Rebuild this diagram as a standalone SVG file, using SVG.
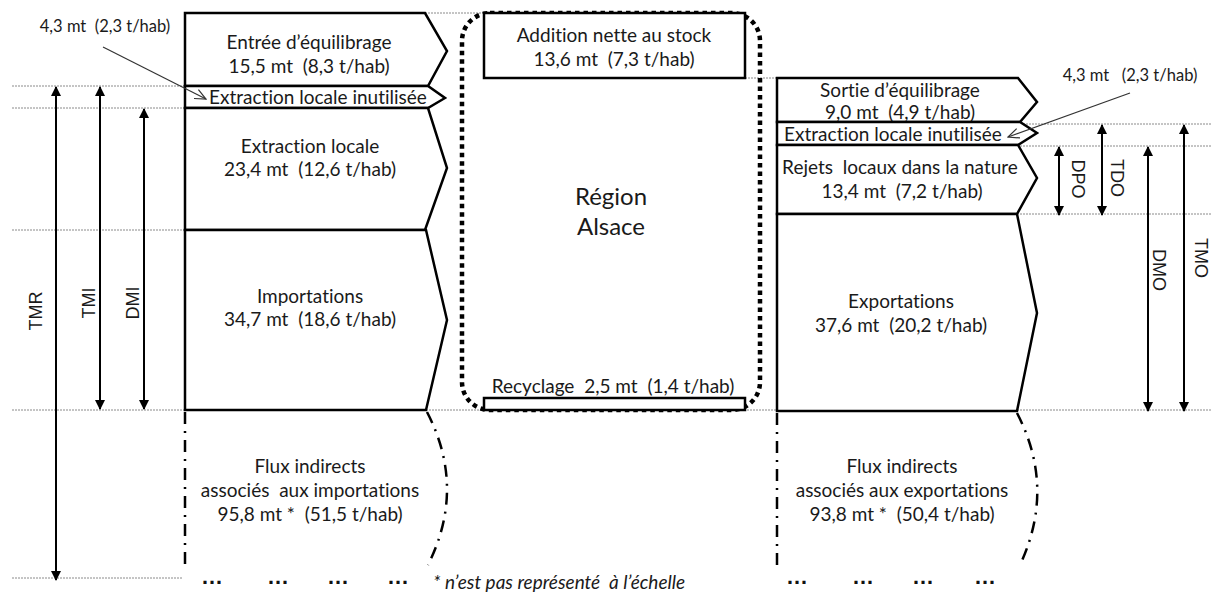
<svg xmlns="http://www.w3.org/2000/svg" width="1211" height="595" viewBox="0 0 1211 595">
<style>
.bg{fill:#fff}
.box{fill:#fff;stroke:#000;stroke-width:2.5;stroke-linejoin:miter}
.guide{stroke:#8a8a8a;stroke-width:1;stroke-dasharray:2 1;fill:none}
.dd{stroke:#000;stroke-width:2.5;stroke-dasharray:12 7 2 7;fill:none}
.dim{stroke:#000;stroke-width:2;fill:none}
.call{stroke:#333;stroke-width:1.2;fill:none}
text{white-space:pre;font-variant-ligatures:none}
.t{font-family:Lato,"Liberation Sans",sans-serif;font-size:19px;fill:#1a1a1a;text-anchor:middle}
.s{font-size:16.5px}
.big{font-size:24px}
.lab{font-family:"Liberation Sans",Arial,sans-serif;font-size:18px;fill:#1a1a1a;text-anchor:middle;dominant-baseline:central}
.dots{font-family:"Liberation Sans",sans-serif;font-size:22px;font-weight:bold;fill:#111;text-anchor:middle}
.note{font-family:Lato,"Liberation Sans",sans-serif;font-size:19px;font-style:italic;fill:#1a1a1a}
</style>
<defs>
<marker id="ah" viewBox="0 0 10 10" refX="9" refY="5" markerWidth="10" markerHeight="10" markerUnits="userSpaceOnUse" orient="auto-start-reverse">
<path d="M0,0 L10,5 L0,10 z" fill="#000"/>
</marker>
<marker id="oa" viewBox="0 0 12 12" refX="11" refY="6" markerWidth="12" markerHeight="12" markerUnits="userSpaceOnUse" orient="auto">
<path d="M0,1 L11,6 L0,11" fill="none" stroke="#333" stroke-width="1.2"/>
</marker>
</defs>
<rect class="bg" x="0" y="0" width="1211" height="595"/>

<g id="guides">
<line class="guide" x1="12" y1="86" x2="185" y2="86"/>
<line class="guide" x1="12" y1="108" x2="185" y2="108"/>
<line class="guide" x1="12" y1="230" x2="185" y2="230"/>
<line class="guide" x1="12" y1="410" x2="1211" y2="410"/>
<line class="guide" x1="12" y1="578" x2="183" y2="578"/>
<line class="guide" x1="425" y1="13" x2="484" y2="13"/>
<line class="guide" x1="745" y1="78" x2="777" y2="78"/>
<line class="guide" x1="1020" y1="124" x2="1211" y2="124"/>
<line class="guide" x1="1020" y1="146" x2="1211" y2="146"/>
<line class="guide" x1="1020" y1="214" x2="1211" y2="214"/>
</g>

<g id="region">
<rect x="462" y="13" width="298" height="397" rx="28" ry="28" fill="none" stroke="#000" stroke-width="4.5" stroke-dasharray="4.5 4"/>
<text class="t big" x="611" y="205">Région</text>
<text class="t big" x="611" y="235">Alsace</text>
</g>

<g id="stock">
<rect class="box" x="484" y="13" width="261" height="65"/>
<text class="t" x="614" y="42">Addition nette au stock</text>
<text class="t" x="614" y="66">13,6 mt  (7,3 t/hab)</text>
</g>

<g id="recyclage">
<rect class="box" x="484" y="398" width="261" height="12"/>
<text class="t" x="613" y="393">Recyclage  2,5 mt  (1,4 t/hab)</text>
</g>

<g id="entree">
<polygon class="box" points="185,13 425,13 447,51 428,86 185,86"/>
<text class="t" x="309" y="49">Entrée d’équilibrage</text>
<text class="t" x="309" y="73">15,5 mt  (8,3 t/hab)</text>
</g>

<g id="extr-inut-in">
<polygon class="box" points="185,86 428,86 445,98 428,108 185,108"/>
<text class="t" x="318" y="104">Extraction locale inutilisée</text>
</g>

<g id="extraction">
<polygon class="box" points="185,108 428,108 447,168 425,230 185,230"/>
<text class="t" x="310" y="153">Extraction locale</text>
<text class="t" x="310" y="176">23,4 mt  (12,6 t/hab)</text>
</g>

<g id="importations">
<polygon class="box" points="185,230 426,230 447,320 426,410 185,410"/>
<text class="t" x="310" y="303">Importations</text>
<text class="t" x="310" y="326">34,7 mt  (18,6 t/hab)</text>
</g>

<g id="flux-imp">
<line class="dd" x1="185" y1="412" x2="185" y2="565"/>
<path class="dd" d="M427,412 Q466.5,488 428,565"/>
<text class="t" x="310" y="473">Flux indirects</text>
<text class="t" x="310" y="497">associés  aux importations</text>
<text class="t" x="310" y="521">95,8 mt *  (51,5 t/hab)</text>
<text class="dots" x="212" y="584">…</text>
<text class="dots" x="278" y="584">…</text>
<text class="dots" x="338" y="584">…</text>
<text class="dots" x="398" y="584">…</text>
</g>

<g id="sortie">
<polygon class="box" points="777,78 1018,78 1037,102 1020,122 777,122"/>
<text class="t" x="900" y="97">Sortie d’équilibrage</text>
<text class="t" x="900" y="119">9,0 mt  (4,9 t/hab)</text>
</g>

<g id="extr-inut-out">
<polygon class="box" points="777,122 1020,122 1037,133 1018,145 777,145"/>
<text class="t" x="893" y="141">Extraction locale inutilisée</text>
</g>

<g id="rejets">
<polygon class="box" points="777,145 1018,145 1037,178 1017,214 777,214"/>
<text class="t" x="900" y="174">Rejets  locaux dans la nature</text>
<text class="t" x="902" y="198">13,4 mt  (7,2 t/hab)</text>
</g>

<g id="exportations">
<polygon class="box" points="777,214 1017,214 1037,313 1017,411 777,411"/>
<text class="t" x="901" y="308">Exportations</text>
<text class="t" x="901" y="332">37,6 mt  (20,2 t/hab)</text>
</g>

<g id="flux-exp">
<line class="dd" x1="777" y1="413" x2="777" y2="565"/>
<path class="dd" d="M1017,413 Q1056,488 1020,565"/>
<text class="t" x="902" y="473">Flux indirects</text>
<text class="t" x="902" y="497">associés aux exportations</text>
<text class="t" x="902" y="521">93,8 mt *  (50,4 t/hab)</text>
<text class="dots" x="797" y="584">…</text>
<text class="dots" x="863" y="584">…</text>
<text class="dots" x="923" y="584">…</text>
<text class="dots" x="985" y="584">…</text>
</g>

<g id="connectors">
<line class="dim" x1="56" y1="87" x2="56" y2="580" marker-start="url(#ah)" marker-end="url(#ah)"/>
<line class="dim" x1="100" y1="87" x2="100" y2="409" marker-start="url(#ah)" marker-end="url(#ah)"/>
<line class="dim" x1="144" y1="109" x2="144" y2="409" marker-start="url(#ah)" marker-end="url(#ah)"/>
<line class="dim" x1="1059" y1="147" x2="1059" y2="215" marker-start="url(#ah)" marker-end="url(#ah)"/>
<line class="dim" x1="1102" y1="125" x2="1102" y2="215" marker-start="url(#ah)" marker-end="url(#ah)"/>
<line class="dim" x1="1148" y1="147" x2="1148" y2="411" marker-start="url(#ah)" marker-end="url(#ah)"/>
<line class="dim" x1="1184" y1="125" x2="1184" y2="411" marker-start="url(#ah)" marker-end="url(#ah)"/>
<line class="call" x1="103" y1="47" x2="206" y2="99" marker-end="url(#oa)"/>
<line class="call" x1="1130" y1="93" x2="1008" y2="137" marker-end="url(#oa)"/>
</g>

<g id="labels">
<text class="lab" transform="translate(36,311) rotate(-90)">TMR</text>
<text class="lab" transform="translate(89,303) rotate(-90)">TMI</text>
<text class="lab" transform="translate(133,303) rotate(-90)">DMI</text>
<text class="lab" transform="translate(1078,179) rotate(90)">DPO</text>
<text class="lab" transform="translate(1117,178) rotate(90)">TDO</text>
<text class="lab" transform="translate(1159,270) rotate(90)">DMO</text>
<text class="lab" transform="translate(1201,258) rotate(90)">TMO</text>
<text class="t s" x="105" y="32">4,3 mt  (2,3 t/hab)</text>
<text class="t s" x="1130" y="81">4,3 mt   (2,3 t/hab)</text>
<text class="note" x="433" y="589">* n’est pas représenté  à l’échelle</text>
</g>
</svg>
